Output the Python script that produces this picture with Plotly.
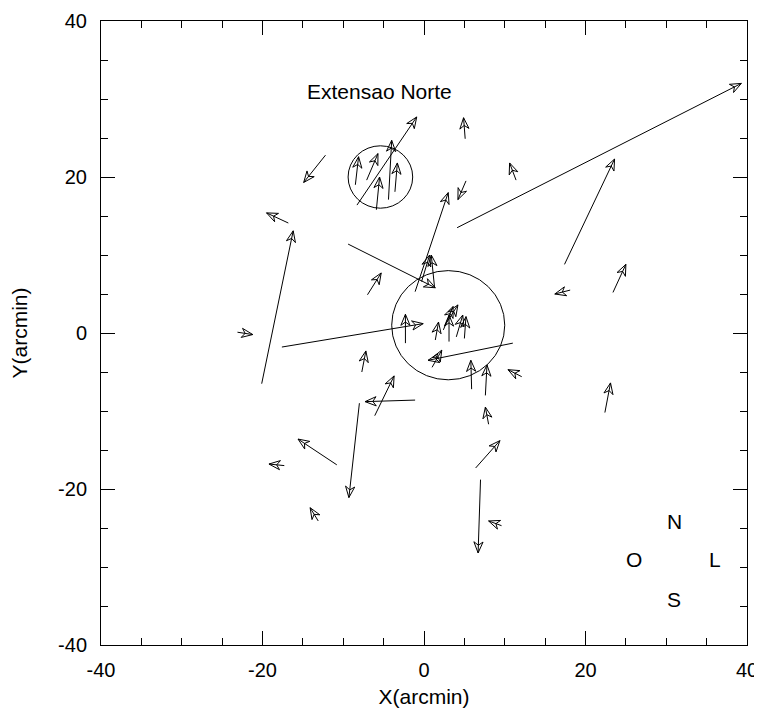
import math
import plotly.graph_objects as go

# ---- data (arcmin) ----
x_tail = [4.1, 17.4, 23.4, 18.1, 5.1, 11.4, 5.2, -1.1, -8.3, -12.2,
          -8.5, -7.1, -5.9, -4.4, -3.6, -16.8, -20.1, -9.4, -7.0, -0.3,
          1.3, 1.4, 3.1, 2.4, 2.6, 4.0, 5.0, -2.3, -17.6, 11.0,
          1.0, 5.9, 7.6, 12.1, 8.0, 6.4, 7.0, 9.6, 22.4, -23.1,
          -7.7, -6.1, -1.1, -8.0, -10.8, -17.3, -13.1]
y_tail = [13.5, 8.8, 5.2, 5.5, 24.9, 19.6, 19.5, 5.3, 16.4, 22.8,
          19.0, 19.6, 15.8, 17.1, 18.1, 14.1, -6.5, 11.4, 4.9, 6.6,
          5.9, -0.9, -1.1, 0.4, 1.0, -0.5, -0.7, -1.3, -1.8, -1.3,
          -4.4, -7.2, -8.0, -5.6, -11.7, -17.3, -18.8, -24.7, -10.2, 0.1,
          -5.0, -10.6, -8.6, -9.0, -16.9, -17.0, -24.1]
x_head = [39.3, 23.6, 25.0, 16.2, 4.9, 10.6, 4.2, 3.0, -0.9, -14.9,
          -8.1, -5.7, -5.5, -4.0, -3.3, -19.5, -16.2, 1.4, -5.3, 0.7,
          0.9, 1.8, 3.1, 3.6, 4.2, 4.8, 5.2, -2.3, -0.1, 0.5,
          2.2, 5.8, 7.8, 10.4, 7.6, 9.4, 6.7, 8.0, 23.1, -21.2,
          -7.2, -3.7, -7.3, -9.3, -15.6, -19.2, -14.1]
y_head = [32.0, 22.3, 8.8, 5.0, 27.6, 21.8, 17.1, 18.0, 27.7, 19.3,
          22.6, 23.0, 20.0, 24.7, 21.8, 15.4, 13.1, 5.8, 7.7, 10.0,
          10.0, 1.4, 2.3, 3.4, 3.6, 2.3, 2.1, 2.4, 1.2, -3.5,
          -2.2, -3.5, -4.1, -4.7, -9.5, -13.8, -28.2, -24.1, -6.4, -0.2,
          -2.3, -5.5, -8.8, -21.1, -13.6, -16.8, -22.4]

# circles: centre x, centre y, radius
circ_x = [-5.4, 3.0]
circ_y = [20.0, 1.0]
circ_r = [4.0, 7.0]

ticks = [-40, -20, 0, 20, 40]
label_text = ["Extensao Norte", "N", "O", "L", "S"]
label_x = [-5.5, 31.0, 26.0, 36.0, 31.0]
label_y = [31.0, -24.2, -29.1, -29.1, -34.2]

# ---- styling constants ----
# the page body adds an 8 px offset, so the figure is 16 px smaller
W, H = 754, 708
ML, MR, MT, MB = 93, 15, 13, 71
SX = (W - ML - MR) / 80.0   # px per arcmin (x)
SY = (H - MT - MB) / 80.0   # px per arcmin (y)
HEAD = 12.0                 # head length in px
HALF = math.radians(22.5)
VENT = 0.3
FONT = "Liberation Sans, Arial, Helvetica, sans-serif"
FS = 21

# shafts
sx, sy = [], []
for a, b, c, d in zip(x_tail, y_tail, x_head, y_head):
    sx += [a, c, None]
    sy += [b, d, None]

# heads (outline, barbed)
hx, hy = [], []
for a, b, c, d in zip(x_tail, y_tail, x_head, y_head):
    dx = (c - a) * SX
    dy = (d - b) * SY
    n = math.hypot(dx, dy)
    ux, uy = dx / n, dy / n
    pts = []
    for s in (1, -1):
        ang = s * HALF
        rx = ux * math.cos(ang) - uy * math.sin(ang)
        ry = ux * math.sin(ang) + uy * math.cos(ang)
        pts.append((c - rx * HEAD / SX, d - ry * HEAD / SY))
    back = HEAD * math.cos(HALF) * (1 - VENT)
    vx, vy = c - ux * back / SX, d - uy * back / SY
    poly = [(c, d), pts[0], (vx, vy), pts[1], (c, d)]
    for p in poly:
        hx.append(p[0]); hy.append(p[1])
    hx.append(None); hy.append(None)

fig = go.Figure()
fig.add_trace(go.Scatter(x=sx, y=sy, mode="lines",
                         line=dict(color="black", width=1), hoverinfo="skip",
                         showlegend=False))
fig.add_trace(go.Scatter(x=hx, y=hy, mode="lines",
                         line=dict(color="black", width=1), hoverinfo="skip",
                         showlegend=False))

for cx, cy, r in zip(circ_x, circ_y, circ_r):
    fig.add_shape(type="circle", xref="x", yref="y",
                  x0=cx - r, x1=cx + r, y0=cy - r, y1=cy + r,
                  line=dict(color="black", width=1))

for t, x, y in zip(label_text, label_x, label_y):
    fig.add_annotation(x=x, y=y, text=t, showarrow=False,
                       font=dict(family=FONT, size=FS, color="black"))

axis_common = dict(
    range=[-40, 40], tickvals=ticks, ticktext=[str(t) for t in ticks],
    ticks="inside", ticklen=14, tickwidth=1, tickcolor="black",
    minor=dict(dtick=5, tick0=0, ticks="inside", ticklen=7, tickwidth=1, tickcolor="black"),
    showline=True, linecolor="black", linewidth=1, mirror="ticks",
    showgrid=False, zeroline=False,
    tickfont=dict(family=FONT, size=20, color="black"),
    title_font=dict(family=FONT, size=FS, color="black"),
)

fig.update_xaxes(**axis_common, title_text="X(arcmin)", title_standoff=9,
                 ticklabelstandoff=7)
fig.update_yaxes(**axis_common, title_text="Y(arcmin)", title_standoff=26,
                 ticklabelstandoff=9)

fig.update_layout(width=W, height=H,
                  margin=dict(l=ML, r=MR, t=MT, b=MB, autoexpand=False),
                  plot_bgcolor="white", paper_bgcolor="white",
                  showlegend=False)

fig.write_html("out.html")
